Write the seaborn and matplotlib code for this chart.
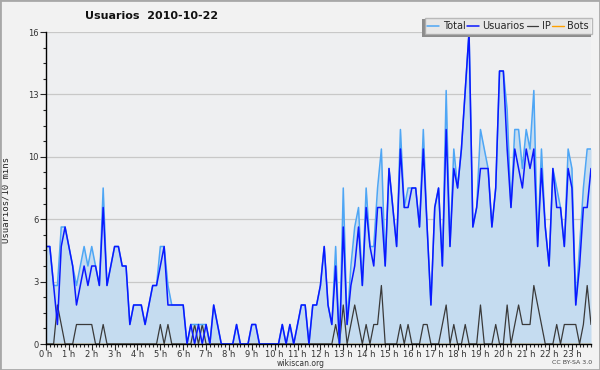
import numpy as np
import pandas as pd
import matplotlib
matplotlib.use("Agg")
import matplotlib.pyplot as plt
from matplotlib.patches import Rectangle
from matplotlib.transforms import Bbox
import seaborn as sns

# users per 10 minutes, 2010-10-22, 144 slots (00:00 .. 23:50)
total = [5, 5, 3, 3, 6, 6, 5, 4, 3, 4, 5, 4, 5, 4, 3, 8, 3, 4, 5, 5, 4, 4, 1, 2,
         2, 2, 1, 2, 3, 3, 5, 5, 3, 2, 2, 2, 2, 0, 1, 1, 1, 1, 1, 0, 2, 1, 0, 0,
         0, 0, 1, 0, 0, 0, 1, 1, 0, 0, 0, 0, 0, 0, 1, 0, 1, 0, 1, 2, 2, 0, 2, 2,
         3, 5, 2, 1, 5, 0, 8, 1, 4, 6, 7, 3, 8, 5, 5, 8, 10, 4, 9, 7, 5, 11, 7, 8,
         8, 8, 6, 11, 6, 2, 7, 8, 4, 13, 5, 10, 8, 10, 13, 16, 6, 7, 11, 10, 9, 6, 8, 14,
         14, 12, 7, 11, 11, 9, 11, 10, 13, 5, 10, 6, 4, 9, 8, 7, 5, 10, 9, 2, 5, 8, 10, 10]
usuarios = [5, 5, 3, 1, 5, 6, 5, 4, 2, 3, 4, 3, 4, 4, 3, 7, 3, 4, 5, 5, 4, 4, 1, 2,
            2, 2, 1, 2, 3, 3, 4, 5, 2, 2, 2, 2, 2, 0, 1, 0, 1, 0, 1, 0, 2, 1, 0, 0,
            0, 0, 1, 0, 0, 0, 1, 1, 0, 0, 0, 0, 0, 0, 1, 0, 1, 0, 1, 2, 2, 0, 2, 2,
            3, 5, 2, 1, 4, 0, 6, 1, 3, 4, 6, 3, 7, 5, 4, 7, 7, 4, 9, 7, 5, 10, 7, 7,
            8, 8, 6, 10, 6, 2, 7, 8, 4, 11, 5, 9, 8, 10, 13, 16, 6, 7, 9, 9, 9, 6, 8, 14,
            14, 10, 7, 10, 9, 8, 10, 9, 10, 5, 9, 6, 4, 9, 7, 7, 5, 9, 8, 2, 4, 7, 7, 9]
ip = [0, 0, 0, 2, 1, 0, 0, 0, 1, 1, 1, 1, 1, 0, 0, 1, 0, 0, 0, 0, 0, 0, 0, 0,
      0, 0, 0, 0, 0, 0, 1, 0, 1, 0, 0, 0, 0, 0, 0, 1, 0, 1, 0, 0, 0, 0, 0, 0,
      0, 0, 0, 0, 0, 0, 0, 0, 0, 0, 0, 0, 0, 0, 0, 0, 0, 0, 0, 0, 0, 0, 0, 0,
      0, 0, 0, 0, 1, 0, 2, 0, 1, 2, 1, 0, 1, 0, 1, 1, 3, 0, 0, 0, 0, 1, 0, 1,
      0, 0, 0, 1, 1, 0, 0, 0, 1, 2, 0, 1, 0, 0, 1, 0, 0, 0, 2, 0, 0, 0, 1, 0,
      0, 2, 0, 1, 2, 1, 1, 1, 3, 2, 1, 0, 0, 0, 1, 0, 1, 1, 1, 1, 0, 1, 3, 1]
bots = [0] * 144

hours = list(range(24))
hour_labels = [f"{h} h" for h in hours]
y_ticks = [0, 3.2, 6.4, 9.6, 12.8, 16]
y_labels = ["0", "3", "6", "10", "13", "16"]

df = pd.DataFrame({
    "hora": np.arange(len(total)) / 6,
    "Total": total,
    "Usuarios": usuarios,
    "IP": ip,
    "Bots": bots,
})

sns.set_style("white")
plt.rcParams["font.family"] = ["DejaVu Sans"]

fig = plt.figure(figsize=(6, 3.7), dpi=100)
fig.patch.set_facecolor("#f2f2f2")
fig.add_artist(Rectangle((0, 0), 1, 1, transform=fig.transFigure, fill=False,
                         ec="#a8a8a8", lw=2))
ax = fig.add_axes([46 / 600, 26 / 370, 545 / 600, 312 / 370])
ax.set_facecolor("#eeeff1")

colors = {"Total": "#4ea6f5", "Usuarios": "#0a18ff", "IP": "#3a3a3a", "Bots": "#ffa000"}

ax.fill_between(df["hora"], df["Total"], color="#c5dcf0", lw=0, zorder=1)
sns.lineplot(data=df, x="hora", y="Bots", color=colors["Bots"], lw=1, ax=ax, zorder=1.2, label="Bots")
sns.lineplot(data=df, x="hora", y="IP", color=colors["IP"], lw=0.9, ax=ax, zorder=2, label="IP")
sns.lineplot(data=df, x="hora", y="Total", color=colors["Total"], lw=1.1, ax=ax, zorder=2.1, label="Total")
sns.lineplot(data=df, x="hora", y="Usuarios", color=colors["Usuarios"], lw=1.1, ax=ax, zorder=2.2, label="Usuarios")

ax.set_xlim(0, df["hora"].iloc[-1])
ax.set_ylim(0, 16)
ax.set_xticks(hours)
ax.set_xticklabels(hour_labels, fontsize=6, color="#333333")
ax.set_xticks(df["hora"], minor=True)
ax.set_yticks(y_ticks)
ax.set_yticklabels(y_labels, fontsize=6, color="#333333")
ax.set_yticks(np.arange(0, 16.01, 0.8), minor=True)
ax.tick_params(axis="both", which="major", direction="out", length=4, width=0.8, pad=1)
ax.tick_params(axis="x", which="major", pad=0.5)
ax.tick_params(axis="both", which="minor", direction="out", length=2.5, width=0.8)
ax.tick_params(axis="x", which="both", bottom=True)
ax.tick_params(axis="y", which="both", left=True)
ax.grid(axis="y", color="#c8c8c8", lw=0.9)
ax.set_axisbelow(True)
for side in ["top", "right"]:
    ax.spines[side].set_visible(False)
for side in ["left", "bottom"]:
    ax.spines[side].set_color("black")
    ax.spines[side].set_linewidth(1)
ax.set_xlabel("")
ax.set_ylabel("Usuarios/10 mins", family="DejaVu Sans Mono", fontsize=6.5)
ax.yaxis.set_label_coords(-0.066, 0.46)

handles, labels = ax.get_legend_handles_labels()
order = ["Total", "Usuarios", "IP", "Bots"]
hmap = dict(zip(labels, handles))
leg = fig.legend([hmap[k] for k in order], order, ncol=4, loc="upper right",
                 bbox_to_anchor=(592 / 600, 352 / 370), fontsize=7, frameon=True,
                 fancybox=False, shadow=False, handlelength=1.2, handletextpad=0.35,
                 columnspacing=0.2, borderpad=0.3, borderaxespad=0)
leg.get_frame().set_edgecolor("#aaaaaa")
leg.get_frame().set_facecolor("white")
leg.set_zorder(6)
if ax.legend_:
    ax.legend_.remove()

# shadow on the left / bottom of the legend box
fig.canvas.draw()
bb = leg.get_window_extent()
sh = Bbox.from_extents(bb.x0 - 3, bb.y0 - 3, bb.x1 - 1, bb.y1 - 1).transformed(fig.transFigure.inverted())
fig.add_artist(Rectangle((sh.x0, sh.y0), sh.width, sh.height, transform=fig.transFigure,
                         fc="#8c8c8c", ec="none", zorder=5.5))

fig.text(85 / 600, 1 - 16 / 370, "Usuarios  2010-10-22", fontsize=8, fontweight="bold",
         va="center", ha="left", color="#111111")
fig.text(301 / 600, 1 - 364 / 370, "wikiscan.org", fontsize=5.5, ha="center", va="center", color="#333333")
fig.text(592 / 600, 1 - 363 / 370, "CC BY-SA 3.0", fontsize=4.5, ha="right", va="center", color="#444444")

fig.savefig("out.png", dpi=100, facecolor=fig.get_facecolor())
